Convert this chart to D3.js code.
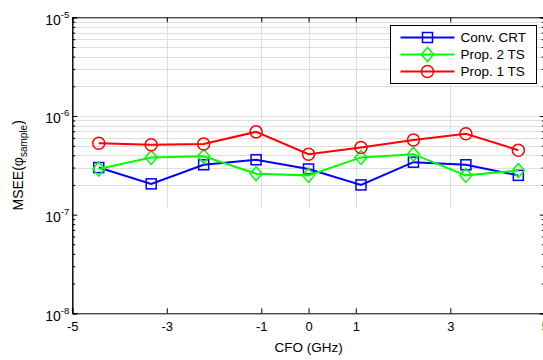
<!DOCTYPE html>
<html>
<head>
<meta charset="utf-8">
<script src="https://cdn.jsdelivr.net/npm/d3@7"></script>
<style>
  body { margin: 0; background: #fff; }
  svg { font-family: 'Liberation Sans', Arial, sans-serif; }
</style>
</head>
<body>
<svg width="543" height="360"></svg>
<script>
// values
const cfo = [-4.44, -3.33, -2.22, -1.11, 0, 1.11, 2.22, 3.33, 4.44];
const convCRT = [3.0e-7, 2.05e-7, 3.2e-7, 3.6e-7, 2.9e-7, 2.0e-7, 3.4e-7, 3.2e-7, 2.5e-7];
const prop2TS = [2.9e-7, 3.8e-7, 3.9e-7, 2.6e-7, 2.5e-7, 3.8e-7, 4.1e-7, 2.5e-7, 2.8e-7];
const prop1TS = [5.3e-7, 5.1e-7, 5.2e-7, 6.9e-7, 4.1e-7, 4.8e-7, 5.7e-7, 6.6e-7, 4.5e-7];
const seriesNames = ['Conv. CRT', 'Prop. 2 TS', 'Prop. 1 TS'];
const xTicks = [-5, -3, -1, 0, 1, 3, 5];
const yExponents = [-8, -7, -6, -5];

const plotLeft = 72.3, plotRight = 544.8, plotTop = 17.3, plotBottom = 313.3;

const svg = d3.select('svg');

const xScale = d3.scaleLinear().domain([-5, 5]).range([plotLeft, plotRight]);
const yScale = d3.scaleLog().domain([1e-8, 1e-5]).range([plotBottom, plotTop]);

const majorY = yExponents.map(e => Math.pow(10, e));
const minorY = [];
yExponents.slice(0, 3).forEach(e => {
  for (let m = 2; m <= 9; m++) minorY.push(m * Math.pow(10, e));
});

// grid (only drawn down to the 1e-7 decade, like the reference)
const grid = svg.append('g').attr('stroke', '#dedede').attr('stroke-width', 1);
grid.selectAll('.hg')
    .data(minorY.filter(v => v > 1.5e-7).concat([1e-6]))
    .enter().append('line')
    .attr('x1', plotLeft).attr('x2', plotRight)
    .attr('y1', d => Math.round(yScale(d)) + 0.5)
    .attr('y2', d => Math.round(yScale(d)) + 0.5);
grid.selectAll('.vg')
    .data(xTicks.slice(1, -1))
    .enter().append('line')
    .attr('x1', d => Math.round(xScale(d)) + 0.5)
    .attr('x2', d => Math.round(xScale(d)) + 0.5)
    .attr('y1', plotTop).attr('y2', yScale(1.15e-7));

// axes with inward ticks
const xAxis = d3.axisBottom(xScale).tickValues(xTicks).tickSize(-5).tickPadding(8)
    .tickFormat(d => String(d));
const gx = svg.append('g').attr('transform', `translate(0, ${plotBottom})`).call(xAxis);
svg.append('g').attr('transform', `translate(0, ${plotTop})`)
    .call(d3.axisTop(xScale).tickValues(xTicks).tickSize(-5).tickFormat(''));

const yAxis = d3.axisLeft(yScale).tickValues(majorY).tickSize(-5).tickPadding(4)
    .tickFormat(d => '');
const gy = svg.append('g').attr('transform', `translate(${plotLeft}, 0)`).call(yAxis);
svg.append('g').attr('transform', `translate(${plotLeft}, 0)`)
    .call(d3.axisLeft(yScale).tickValues(minorY).tickSize(-3).tickFormat(''));
svg.append('g').attr('transform', `translate(${plotRight}, 0)`)
    .call(d3.axisRight(yScale).tickValues(majorY).tickSize(-5).tickFormat(''));
svg.append('g').attr('transform', `translate(${plotRight}, 0)`)
    .call(d3.axisRight(yScale).tickValues(minorY).tickSize(-3).tickFormat(''));

svg.selectAll('.domain').attr('stroke', '#000');
svg.selectAll('.tick line').attr('stroke', '#000');

gx.selectAll('text').attr('font-size', 13).attr('fill', '#000')
    .attr('font-family', "'Liberation Sans', Arial, sans-serif");

gy.selectAll('.tick').each(function(d) {
  const t = d3.select(this).select('text')
      .attr('font-size', 14).attr('fill', '#000')
      .attr('font-family', "'Liberation Sans', Arial, sans-serif")
      .attr('x', -3).attr('dy', '0.5em')
      .attr('text-anchor', 'end');
  t.append('tspan').text('10');
  t.append('tspan').attr('font-size', 9.5).attr('dy', '-0.75em')
      .text(String(Math.round(Math.log10(d))));
});

// axis labels
svg.append('text')
    .attr('x', xScale(0)).attr('y', 352)
    .attr('text-anchor', 'middle').attr('font-size', 13.5)
    .text('CFO (GHz)');
const yl = svg.append('text')
    .attr('transform', `translate(23, ${(plotTop + plotBottom) / 2}) rotate(-90)`)
    .attr('text-anchor', 'middle').attr('font-size', 14);
yl.append('tspan').text('MSEE(φ');
yl.append('tspan').attr('font-size', 10).attr('dy', 4).text('sample');
yl.append('tspan').attr('dy', -4).text(')');

// series
const series = [
  { name: seriesNames[0], values: convCRT, color: '#0000ff', marker: 'square' },
  { name: seriesNames[1], values: prop2TS, color: '#00ff00', marker: 'diamond' },
  { name: seriesNames[2], values: prop1TS, color: '#ff0000', marker: 'circle' }
];

function drawMarker(g, type, x, y, color) {
  if (type === 'square') {
    g.append('rect').attr('x', x - 5).attr('y', y - 5).attr('width', 10).attr('height', 10)
        .attr('fill', 'none').attr('stroke', color).attr('stroke-width', 1.5);
  } else if (type === 'diamond') {
    g.append('path').attr('d', `M${x},${y - 7}L${x + 6},${y}L${x},${y + 7}L${x - 6},${y}Z`)
        .attr('fill', 'none').attr('stroke', color).attr('stroke-width', 1.5);
  } else {
    g.append('circle').attr('cx', x).attr('cy', y).attr('r', 6)
        .attr('fill', 'none').attr('stroke', color).attr('stroke-width', 1.5);
  }
}

const line = d3.line().x(d => xScale(d[0])).y(d => yScale(d[1]));
const plot = svg.append('g');
series.forEach(s => {
  const pts = cfo.map((c, i) => [c, s.values[i]]);
  plot.append('path').attr('d', line(pts))
      .attr('fill', 'none').attr('stroke', s.color).attr('stroke-width', 2);
  pts.forEach(p => drawMarker(plot, s.marker, xScale(p[0]), yScale(p[1]), s.color));
});

// legend
const legend = svg.append('g').attr('transform', 'translate(390.5, 25.5)');
legend.append('rect').attr('width', 146).attr('height', 58)
    .attr('fill', '#fff').attr('stroke', '#000').attr('stroke-width', 1);
series.forEach((s, i) => {
  const y = 12 + i * 17;
  legend.append('line').attr('x1', 10).attr('x2', 64).attr('y1', y).attr('y2', y)
      .attr('stroke', s.color).attr('stroke-width', 2);
  drawMarker(legend, s.marker, 37, y, s.color);
  legend.append('text').attr('x', 70).attr('y', y).attr('dy', '0.35em')
      .attr('font-size', 13.5).text(s.name);
});
</script>
</body>
</html>
